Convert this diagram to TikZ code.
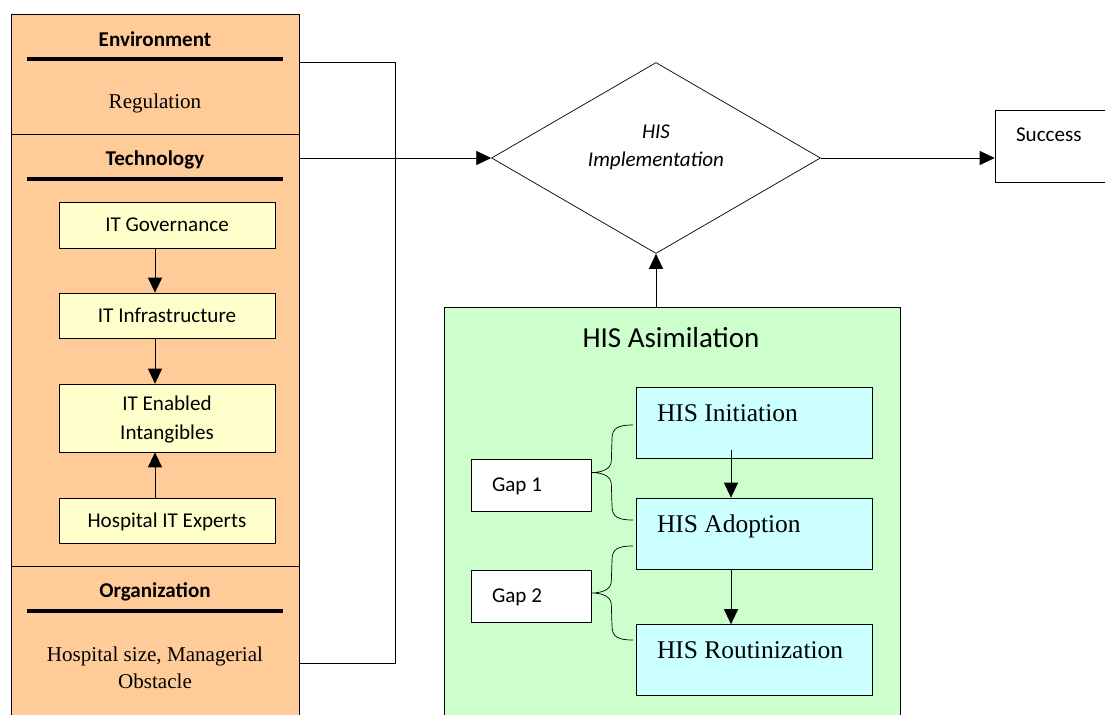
\documentclass[tikz,border=0pt]{standalone}
\usepackage{fontspec}
\setmainfont{Liberation Serif}
\setsansfont{Carlito}
\usetikzlibrary{calc,arrows.meta,shapes.geometric}
\definecolor{peach}{HTML}{FFCC99}
\definecolor{ityellow}{HTML}{FFFFCC}
\definecolor{asimgreen}{HTML}{CCFFCC}
\definecolor{stagecyan}{HTML}{CCFFFF}
\tikzset{
every node/.style={inner sep=0pt},
line width=0.9pt,
arr/.style={-{Triangle[length=8.5pt,width=8pt]}},
sect/.style={draw, fill=peach, minimum width=5.76cm},
headtext/.style={anchor=base, font=\sffamily\bfseries\fontsize{12}{14}\selectfont},
sectext/.style={align=center, font=\fontsize{12}{15.3}\selectfont},
itbox/.style={draw, fill=ityellow, minimum width=4.32cm, text depth=0pt, align=center, font=\sffamily\fontsize{12}{16.4}\selectfont},
stagebox/.style={draw, fill=stagecyan, minimum width=4.72cm, minimum height=1.42cm},
gapbox/.style={draw, fill=white, minimum height=1.04cm, text width=1.56cm, inner xsep=0.42cm, text depth=0pt, align=flush left, font=\sffamily\fontsize{12}{14}\selectfont}
}
\newcommand{\sechead}[4]{%
\node[headtext] (#1) at (155,#2) {#4};
\draw[line width=2.5pt] (27,#3) -- (283,#3);
}
\newcommand{\stage}[3]{%
\node[stagebox, label={[anchor=base west, xshift=0.42cm, yshift=-0.69cm, font=\fontsize{14.5}{17}\selectfont]north west:#3}] (#1) at (754,#2) {};
}
\newcommand{\gapbrace}[3]{%
\coordinate (#3tip) at (#3.east |- 0,{(#1+#2)/2});
\draw (633,#1) .. controls (618,#1) and (612,#1+3) .. (612,#1+14) -- ($(#3tip)+(20,-12)$) .. controls ($(#3tip)+(20,-3)$) and ($(#3tip)+(10,0)$) .. (#3tip) .. controls ($(#3tip)+(10,0)$) and ($(#3tip)+(20,3)$) .. ($(#3tip)+(20,12)$) -- (612,#2-14) .. controls (612,#2-3) and (618,#2) .. (633,#2);
}

\begin{document}
\begin{tikzpicture}[x=0.02cm, y=-0.02cm]
\clip (0,0) rectangle (1105,715);

\node[sect, minimum height=2.4cm] (envsec) at (155,74) {};
\node[sect, minimum height=8.64cm] (techsec) at (155,350) {};
\node[sect, minimum height=3.88cm] (orgsec) at (155,663) {};

\sechead{envhead}{47}{59}{Environment}
\node[sectext, anchor=base] (regtext) at (155,109) {Regulation};

\sechead{techhead}{166}{179}{Technology}
\node[itbox, minimum height=0.92cm] (gov) at (167,225) {IT Governance};
\node[itbox, minimum height=0.9cm] (infra) at (167,315.5) {IT Infrastructure};
\node[itbox, minimum height=1.36cm] (intang) at (167,418) {IT Enabled\\Intangibles};
\node[itbox, minimum height=0.9cm] (experts) at (167,520.5) {Hospital IT Experts};
\draw[arr] ($(gov.south)+(-12,0)$) -- ($(infra.north)+(-12,0)$);
\draw[arr] ($(infra.south)+(-12,0)$) -- ($(intang.north)+(-12,0)$);
\draw[arr] ($(experts.north)+(-12,0)$) -- ($(intang.south)+(-12,0)$);

\sechead{orghead}{598}{611}{Organization}
\node[sectext] (orgtext) at (155,668) {Hospital size, Managerial\\Obstacle};

\node[draw, diamond, fill=white, minimum width=6.58cm, minimum height=3.82cm,
  label={[yshift=0.22cm, align=center, font=\sffamily\itshape\fontsize{12}{15.9}\selectfont]center:HIS\\Implementation}] (impl) at (656,158) {};
\node[draw, fill=white, minimum width=2.4cm, minimum height=1.44cm,
  label={[anchor=base west, xshift=0.42cm, yshift=-0.64cm, font=\sffamily\fontsize{12}{14}\selectfont]north west:Success}] (succ) at (1055,146) {};

\coordinate (bend) at (395,62);
\draw (envsec.east |- bend) -- (bend) |- (orgsec.east);
\draw[arr] (techsec.east |- impl.west) -- (impl.west);
\draw[arr] (impl.east) -- (impl.east -| succ.west);

\node[draw, fill=asimgreen, minimum width=9.12cm, minimum height=9.06cm] (asim) at (672,533.5) {};
\node[anchor=base, font=\sffamily\fontsize{16.5}{20}\selectfont] (asimtitle) at (671,348) {HIS Asimilation};
\draw[arr] (impl.south |- asim.north) -- (impl.south);

\stage{init}{422.5}{HIS Initiation}
\stage{adopt}{533.5}{HIS Adoption}
\stage{rout}{660}{HIS Routinization}
\draw[arr] ($(init.south)+(-23,-8)$) -- ($(adopt.north)+(-23,0)$);
\draw[arr] ($(adopt.south)+(-23,0)$) -- ($(rout.north)+(-23,0)$);

\node[gapbox] (gap1) at (531,485) {Gap 1};
\node[gapbox] (gap2) at (531,596) {Gap 2};
\gapbrace{425}{520}{gap1}
\gapbrace{546}{640}{gap2}

\end{tikzpicture}
\end{document}
